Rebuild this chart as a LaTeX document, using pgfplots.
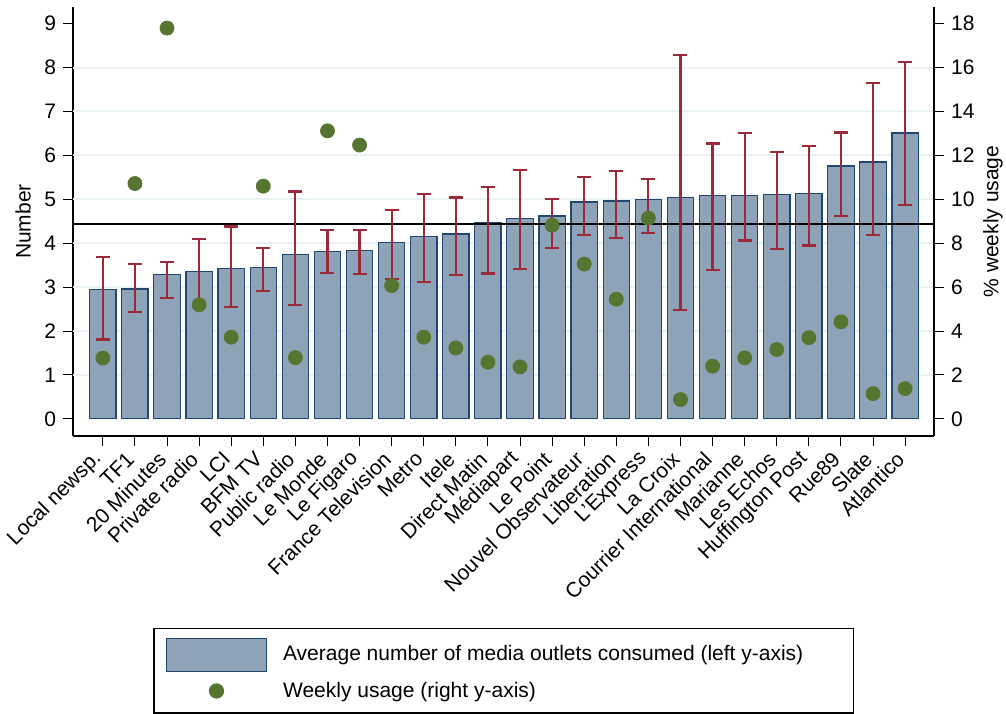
\documentclass[border=0pt]{standalone}
\usepackage{fontspec}
\setmainfont{Liberation Sans}
\usepackage{pgfplots}
\usepackage{pgfplotstable}
\pgfplotsset{compat=1.18}
\definecolor{barfill}{RGB}{142,163,184}
\definecolor{barline}{RGB}{30,72,112}
\definecolor{errred}{RGB}{155,42,56}
\definecolor{dotgreen}{RGB}{86,117,48}
\definecolor{gridc}{RGB}{234,241,244}
\pgfplotstableread{
x mean hi lo usage
0 2.95 3.69 1.81 2.77
1 2.96 3.52 2.44 10.72
2 3.29 3.57 2.76 17.80
3 3.36 4.09 2.62 5.20
4 3.42 4.38 2.54 3.72
5 3.45 3.90 2.92 10.60
6 3.74 5.18 2.60 2.79
7 3.81 4.31 3.33 13.12
8 3.84 4.31 3.30 12.47
9 4.02 4.76 3.18 6.07
10 4.16 5.13 3.11 3.72
11 4.21 5.04 3.27 3.23
12 4.47 5.28 3.31 2.58
13 4.57 5.67 3.42 2.37
14 4.62 5.00 3.90 8.82
15 4.94 5.51 4.18 7.05
16 4.96 5.65 4.12 5.45
17 5.00 5.47 4.23 9.14
18 5.04 8.28 2.48 0.88
19 5.09 6.27 3.39 2.40
20 5.09 6.51 4.06 2.78
21 5.11 6.07 3.87 3.16
22 5.13 6.22 3.95 3.70
23 5.76 6.52 4.62 4.42
24 5.85 7.65 4.18 1.15
25 6.51 8.13 4.87 1.38
}\datatable
\pgfplotsset{
  common/.style={
    scale only axis, width=430.5pt, height=214.5pt,
    at={(0,0)}, anchor=south west,
    xmin=-0.93, xmax=25.9,
    font=\fontsize{10.5}{12.6}\selectfont,
    /pgf/number format/assume math mode=true,
    tick align=outside, major tick length=5pt,
    tick style={black, line width=0.5pt},
    axis line style={black, line width=0.7pt, -},
  },
  barlegend/.style={legend image code/.code={\draw[fill=barfill, draw=barline, line width=0.6pt] (0pt,-8.25pt) rectangle (50pt,8.25pt);}},
  dotlegend/.style={legend image code/.code={\draw[##1] plot coordinates {(25pt,0pt)};}},
}
\begin{document}
\begin{tikzpicture}
\useasboundingbox (-36.5pt,-138.5pt) rectangle (466.5pt,218pt);
\begin{axis}[common,
  axis x line*=bottom, axis y line*=left,
  ymin=-0.39, ymax=9.38,
  ytick={0,1,...,9},
  extra y ticks={1,2,...,8}, extra y tick labels={},
  extra y tick style={ymajorgrids=true, major tick length=0pt, grid style={gridc, line width=1pt}},
  xtick={0,1,...,25},
  xticklabels={Local newsp., TF1, 20 Minutes, Private radio, LCI, BFM TV, Public radio, Le Monde, Le Figaro, France Television, Metro, Itele, Direct Matin, Médiapart, Le Point, Nouvel Observateur, Liberation, L'Express, La Croix, Courrier International, Marianne, Les Echos, Huffington Post, Rue89, Slate, Atlantico},
  xticklabel style={xshift=-1.5pt, yshift=-4pt, rotate=45, anchor=east, inner sep=1pt},
  ylabel={Number},
  ylabel style={at={(axis description cs:-0.058,0.5)}, anchor=center, rotate=0},
  legend style={at={(0.5,-0.4476)}, anchor=north, draw=black, line width=0.6pt,
    cells={anchor=west}, row sep=3pt, inner xsep=6pt, inner ysep=4.5pt,
    font=\fontsize{10.5}{12.6}\selectfont},
]
\addplot[ybar, bar width=0.82, fill=barfill, draw=barline, line width=0.6pt, barlegend]
  table[x=x, y=mean] {\datatable};
\addlegendentry{\makebox[283pt][l]{\hspace*{6pt}Average number of media outlets consumed (left y-axis)}}
\addplot[forget plot, black, line width=1pt] coordinates {(-0.93,4.44) (25.9,4.44)};
\addplot[forget plot, draw=none, mark=none,
  error bars/.cd, y dir=both, y explicit,
  error bar style={errred, line width=1.1pt},
  error mark options={rotate=90, errred, mark size=3.5pt, line width=1.1pt}]
  table[x=x, y=mean, y error plus expr=\thisrow{hi}-\thisrow{mean}, y error minus expr=\thisrow{mean}-\thisrow{lo}] {\datatable};
\addlegendimage{only marks, mark=*, mark size=3.5pt, dotgreen, dotlegend}
\addlegendentry{\hspace*{6pt}Weekly usage (right y-axis)}
\end{axis}
\begin{axis}[common,
  axis x line=none, axis y line*=right,
  ymin=-0.78, ymax=18.76,
  ytick={0,2,...,18},
  ylabel={\% weekly usage},
  ylabel style={at={(axis description cs:1.0685,0.5)}, anchor=center, rotate=0},
]
\addplot[only marks, mark=*, mark size=3.5pt, dotgreen] table[x=x, y=usage] {\datatable};
\end{axis}
\end{tikzpicture}
\end{document}
